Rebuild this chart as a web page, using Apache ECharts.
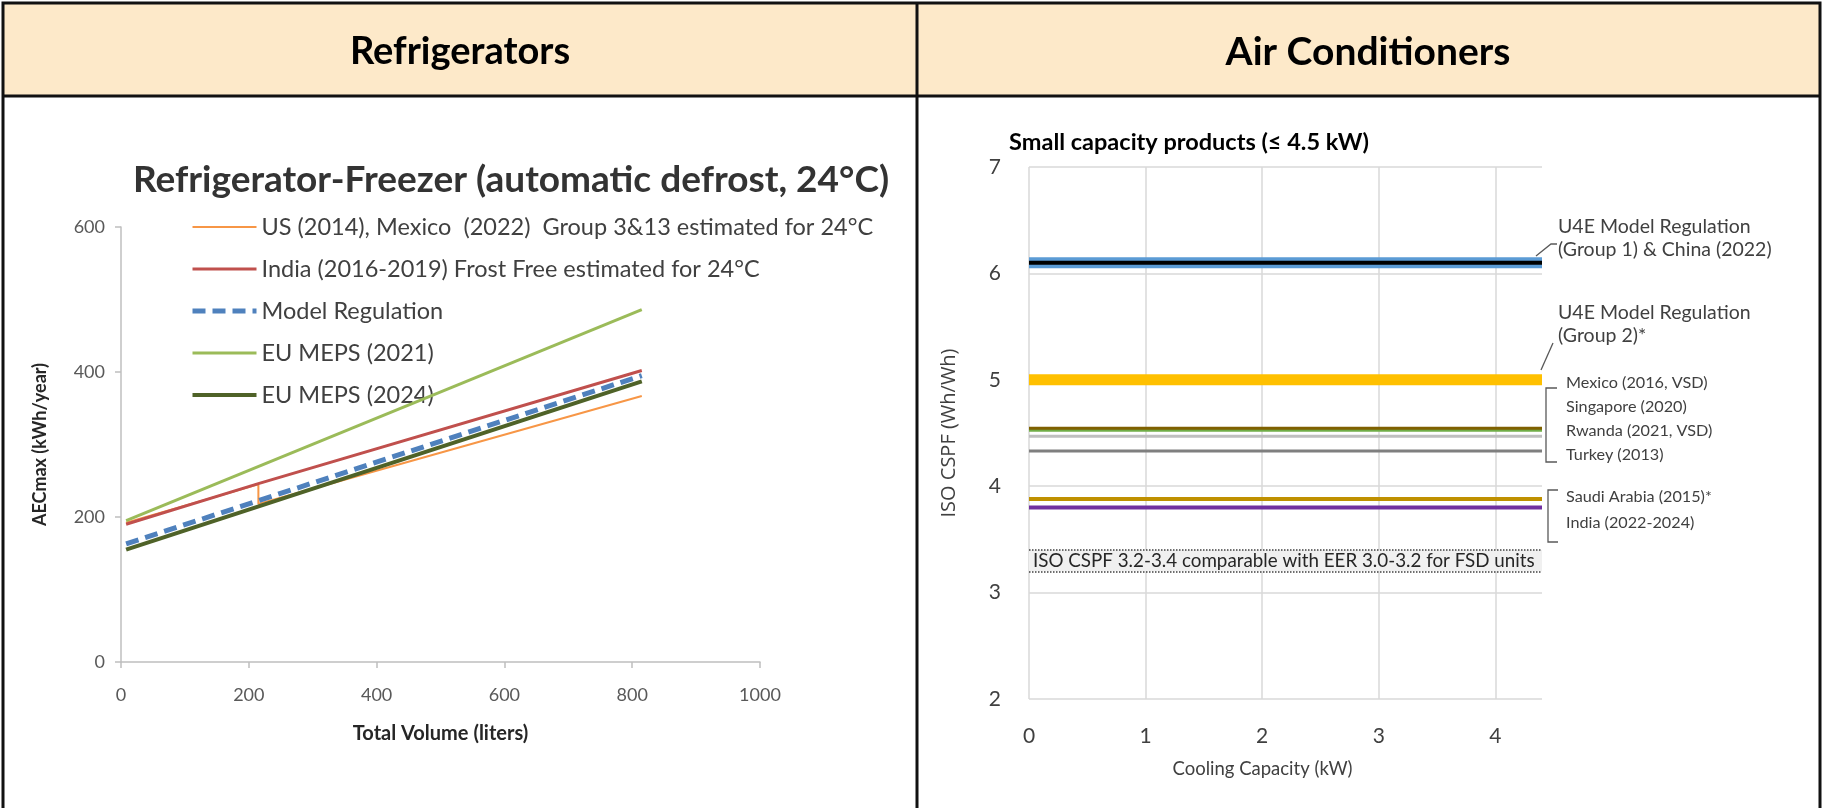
<!DOCTYPE html>
<html>
<head>
<meta charset="utf-8">
<script src="https://cdn.jsdelivr.net/npm/echarts@6/dist/echarts.min.js"></script>
<style>
  html, body { margin: 0; padding: 0; background: #fff; }
  #main { width: 1823px; height: 808px; }
</style>
</head>
<body>
<div id="main"></div>
<script>
var chart = echarts.init(document.getElementById('main'));
var FONT = 'Lato, "Open Sans", sans-serif';

// Refrigerator-freezer: total volume (liters) -> AECmax (kWh/year)
var refNames = [
  'US (2014), Mexico  (2022)  Group 3&13 estimated for 24°C',
  'India (2016-2019) Frost Free estimated for 24°C',
  'Model Regulation',
  'EU MEPS (2021)',
  'EU MEPS (2024)'
];
var usVolume = [8, 215, 215, 815];
var usAEC = [192, 245, 218, 367];
var indiaVolume = [8, 215, 815];
var indiaAEC = [190, 246, 402];
var modelVolume = [8, 815];
var modelAEC = [163, 395];
var eu2021Volume = [8, 815];
var eu2021AEC = [195, 486];
var eu2024Volume = [8, 815];
var eu2024AEC = [155, 387];

// Air conditioners: minimum ISO CSPF (Wh/Wh) over cooling capacity (kW)
var acNames = [
  'U4E Model Regulation (Group 1)', 'China (2022)', 'U4E Model Regulation (Group 2)',
  'Mexico (2016, VSD)', 'Singapore (2020)', 'Rwanda (2021, VSD)', 'Turkey (2013)',
  'Saudi Arabia (2015)', 'India (2022-2024)'
];
var acCSPF = [6.1, 6.1, 5.0, 4.54, 4.52, 4.47, 4.33, 3.88, 3.80];
var capacityRange = [0, 4.4];
var fsdBand = [3.2, 3.4];

// styles
var refColors = ['#F79646', '#C0504D', '#4F81BD', '#9BBB59', '#4F6228'];
var refWidths = [2, 3, 5, 3, 4];
var acColors = ['#5B9BD5', '#000000', '#FFC000', '#7F6000', '#70AD47', '#BFBFBF', '#7F7F7F', '#BF9000', '#7030A0'];
var acWidths = [11, 4, 11, 4, 2, 3, 3, 4, 4];

function pairs(xs, ys) {
  return xs.map(function (x, i) { return [x, ys[i]]; });
}

var refData = [
  pairs(usVolume, usAEC),
  pairs(indiaVolume, indiaAEC),
  pairs(modelVolume, modelAEC),
  pairs(eu2021Volume, eu2021AEC),
  pairs(eu2024Volume, eu2024AEC)
];

var series = refData.map(function (d, i) {
  return {
    name: refNames[i],
    type: 'line',
    xAxisIndex: 0,
    yAxisIndex: 0,
    data: d,
    symbol: 'none',
    silent: true,
    lineStyle: {
      color: refColors[i],
      width: refWidths[i],
      type: i === 2 ? [13, 7] : 'solid'
    },
    itemStyle: { color: refColors[i] },
    z: 2 + i
  };
});

acCSPF.forEach(function (v, i) {
  var s = {
    name: acNames[i],
    type: 'line',
    xAxisIndex: 1,
    yAxisIndex: 1,
    data: [[capacityRange[0], v], [capacityRange[1], v]],
    symbol: 'none',
    silent: true,
    lineStyle: { color: acColors[i], width: acWidths[i], cap: 'butt' },
    z: 3 + i
  };
  if (i === 0) {
    s.markArea = {
      silent: true,
      itemStyle: { color: '#F0F0F0' },
      label: {
        show: true,
        position: 'insideLeft',
        distance: 4,
        fontFamily: FONT,
        fontSize: 18.8,
        color: '#262626'
      },
      data: [[
        { name: 'ISO CSPF 3.2-3.4 comparable with EER 3.0-3.2 for FSD units', xAxis: capacityRange[0], yAxis: fsdBand[0] },
        { xAxis: capacityRange[1], yAxis: fsdBand[1] }
      ]]
    };
    s.markLine = {
      silent: true,
      symbol: 'none',
      label: { show: false },
      lineStyle: { color: '#404040', type: 'dotted', width: 1.5 },
      data: [{ yAxis: fsdBand[0] }, { yAxis: fsdBand[1] }]
    };
  }
  series.push(s);
});

var labelColor = '#404040';

function annText(x, y, text, size) {
  return {
    type: 'text', x: x, y: y, z: 20,
    style: { text: text, fontFamily: FONT, fontSize: size, fill: labelColor, align: 'left', verticalAlign: 'middle' }
  };
}
function annLine(points) {
  return {
    type: 'polyline', z: 20,
    shape: { points: points },
    style: { stroke: '#595959', lineWidth: 1.3, fill: null }
  };
}

var graphic = [
  // table frame and header row
  { type: 'rect', z: 0, shape: { x: 3, y: 3, width: 1817, height: 93 }, style: { fill: '#FDE9C9' } },
  { type: 'line', z: 30, shape: { x1: 3, y1: 96, x2: 1820, y2: 96 }, style: { stroke: '#111', lineWidth: 3 } },
  { type: 'line', z: 30, shape: { x1: 917, y1: 3, x2: 917, y2: 808 }, style: { stroke: '#111', lineWidth: 3 } },
  { type: 'rect', z: 30, shape: { x: 3, y: 3, width: 1817, height: 900 }, style: { fill: null, stroke: '#111', lineWidth: 3 } },
  { type: 'text', z: 31, x: 460, y: 52, style: { text: 'Refrigerators', fontFamily: FONT, fontWeight: 'bold', fontSize: 38, fill: '#000', align: 'center', verticalAlign: 'middle' } },
  { type: 'text', z: 31, x: 1368, y: 52, style: { text: 'Air Conditioners', fontFamily: FONT, fontWeight: 'bold', fontSize: 39, fill: '#000', align: 'center', verticalAlign: 'middle' } },
  // chart titles
  { type: 'text', z: 31, x: 511, y: 180, style: { text: 'Refrigerator-Freezer (automatic defrost, 24°C)', fontFamily: FONT, fontWeight: 'bold', fontSize: 37, fill: '#333', align: 'center', verticalAlign: 'middle' } },
  { type: 'text', z: 31, x: 1189, y: 142, style: { text: 'Small capacity products (\u2264 4.5 kW)', fontFamily: FONT, fontWeight: 'bold', fontSize: 23.5, fill: '#000', align: 'center', verticalAlign: 'middle' } },
  // air conditioner annotations
  annLine([[1536, 256], [1551, 244], [1557, 244]]),
  annText(1558, 227, 'U4E Model Regulation', 19.5),
  annText(1558, 250, '(Group 1) & China (2022)', 19.5),
  annLine([[1541, 370], [1553, 343]]),
  annText(1558, 313, 'U4E Model Regulation', 19.5),
  annText(1558, 336, '(Group 2)*', 19.5),
  annLine([[1557, 388], [1546, 388], [1546, 462], [1557, 462]]),
  annText(1566, 383, 'Mexico (2016, VSD)', 16.2),
  annText(1566, 407, 'Singapore (2020)', 16.2),
  annText(1566, 431, 'Rwanda (2021, VSD)', 16.2),
  annText(1566, 455, 'Turkey (2013)', 16.2),
  annLine([[1558, 490], [1548, 490], [1548, 542], [1558, 542]]),
  annText(1566, 497, 'Saudi Arabia (2015)*', 16.2),
  annText(1566, 523, 'India (2022-2024)', 16.2)
];

var option = {
  backgroundColor: '#fff',
  animation: false,
  textStyle: { fontFamily: FONT },
  legend: {
    data: refNames,
    orient: 'vertical',
    left: 190,
    top: 215,
    padding: 0,
    itemWidth: 64,
    itemHeight: 14,
    itemGap: 18,
    selectedMode: false,
    itemStyle: { opacity: 0 },
    lineStyle: { width: 'inherit' },
    textStyle: { fontFamily: FONT, fontSize: 23.5, color: labelColor, lineHeight: 24 }
  },
  grid: [
    { left: 121, top: 227, width: 639, height: 435 },
    { left: 1029, top: 167, width: 513, height: 532 }
  ],
  xAxis: [
    {
      gridIndex: 0, type: 'value', min: 0, max: 1000, interval: 200,
      name: 'Total Volume (liters)', nameLocation: 'middle', nameGap: 62,
      nameTextStyle: { fontFamily: FONT, fontWeight: 'bold', fontSize: 20, color: '#262626' },
      axisLine: { show: true, lineStyle: { color: '#BFBFBF', width: 1.5 } },
      axisTick: { show: true, length: 6, lineStyle: { color: '#BFBFBF', width: 1.5 } },
      axisLabel: {
        margin: 24, fontFamily: FONT, fontSize: 18, color: '#595959',
        formatter: function (v) { return String(v); }
      },
      splitLine: { show: false }
    },
    {
      gridIndex: 1, type: 'value', min: capacityRange[0], max: capacityRange[1], interval: 1,
      name: 'Cooling Capacity (kW)', nameLocation: 'middle', nameGap: 61,
      nameTextStyle: { fontFamily: FONT, fontSize: 18.5, color: '#404040', padding: [0, 46, 0, 0] },
      axisLine: { show: false },
      axisTick: { show: false },
      axisLabel: {
        margin: 27, fontFamily: FONT, fontSize: 21, color: '#404040',
        formatter: function (v) { return Number.isInteger(v) ? String(v) : ''; }
      },
      splitLine: { show: true, showMaxLine: false, lineStyle: { color: '#D9D9D9', width: 1.5 } }
    }
  ],
  yAxis: [
    {
      gridIndex: 0, type: 'value', min: 0, max: 600, interval: 200,
      name: 'AECmax (kWh/year)', nameLocation: 'middle', nameGap: 72,
      nameTextStyle: { fontFamily: FONT, fontWeight: 'bold', fontSize: 18, color: '#262626' },
      axisLine: { show: true, lineStyle: { color: '#BFBFBF', width: 1.5 } },
      axisTick: { show: true, length: 6, lineStyle: { color: '#BFBFBF', width: 1.5 } },
      axisLabel: { margin: 16, fontFamily: FONT, fontSize: 18, color: '#595959' },
      splitLine: { show: false }
    },
    {
      gridIndex: 1, type: 'value', min: 2, max: 7, interval: 1,
      name: 'ISO CSPF (Wh/Wh)', nameLocation: 'middle', nameGap: 70,
      nameTextStyle: { fontFamily: '"Open Sans", sans-serif', fontSize: 20, color: '#404040' },
      axisLine: { show: false },
      axisTick: { show: false },
      axisLabel: { margin: 28, fontFamily: FONT, fontSize: 21, color: '#404040' },
      splitLine: { show: true, lineStyle: { color: '#D9D9D9', width: 1.5 } }
    }
  ],
  graphic: graphic,
  series: series
};

chart.setOption(option);
</script>
</body>
</html>
